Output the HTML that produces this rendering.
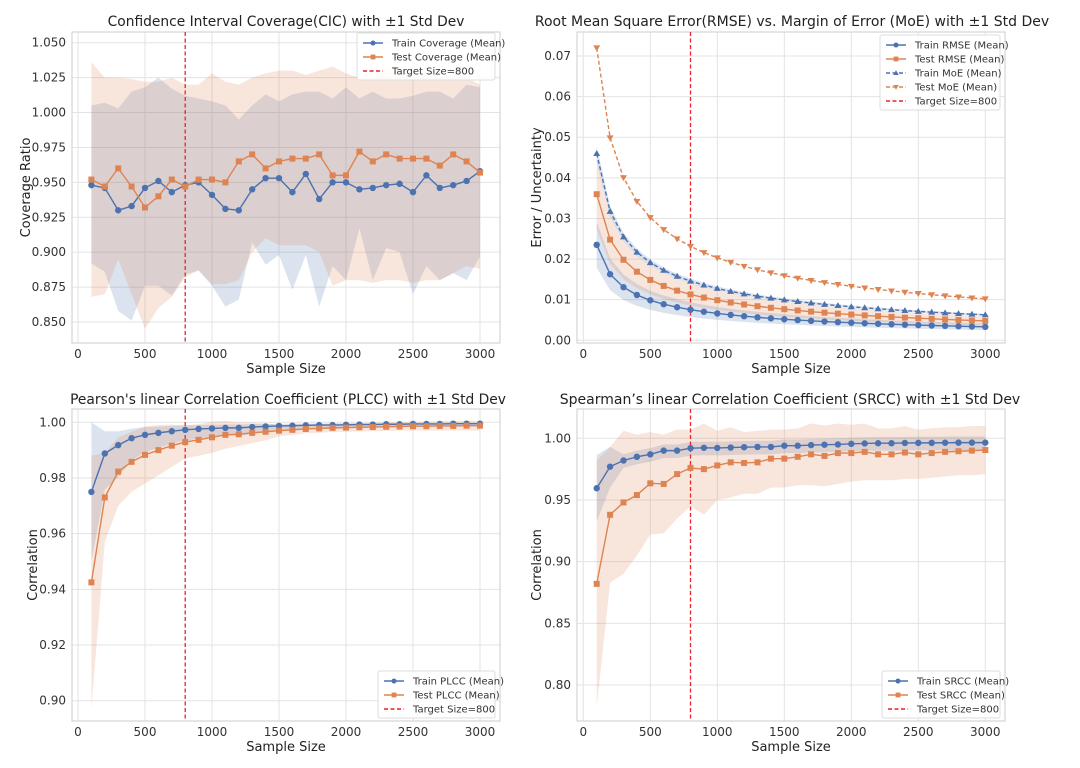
<!DOCTYPE html>
<html><head><meta charset="utf-8"><style>
html,body{margin:0;padding:0;background:#fff;}
svg{display:block;font-family:"DejaVu Sans","Liberation Sans",sans-serif;}
</style></head><body>
<svg id="s" width="1080" height="768" viewBox="0 0 1080 768" xmlns="http://www.w3.org/2000/svg"></svg>
<script>
const B='#4c72b0',O='#dd8452';
const xs=[];for(let i=1;i<=30;i++)xs.push(i*100);
let out='';
function plot(o){
  const X=v=>o.x0+v*(o.x1-o.x0)/3000;
  const Y=v=>o.ya+(v-o.va)*(o.yb-o.ya)/(o.vb-o.va);
  let s='';
  s+=`<clipPath id="c${o.id}"><rect x="${o.fx0}" y="${o.fy0}" width="${o.fx1-o.fx0}" height="${o.fy1-o.fy0}"/></clipPath>`;
  for(const t of [0,500,1000,1500,2000,2500,3000]){
    s+=`<line x1="${X(t)}" x2="${X(t)}" y1="${o.fy0}" y2="${o.fy1}" stroke="#e3e3e3" stroke-width="1"/>`;
    s+=`<text x="${X(t)}" y="${o.fy1+15}" font-size="12" fill="#333" text-anchor="middle">${t}</text>`;
  }
  for(const t of o.yt){
    const y=Y(t);
    s+=`<line x1="${o.fx0}" x2="${o.fx1}" y1="${y}" y2="${y}" stroke="#e3e3e3" stroke-width="1"/>`;
    s+=`<text x="${o.fx0-6}" y="${y+4}" font-size="12" fill="#333" text-anchor="end">${t.toFixed(o.dec)}</text>`;
  }
  s+=`<rect x="${o.fx0}" y="${o.fy0}" width="${o.fx1-o.fx0}" height="${o.fy1-o.fy0}" fill="none" stroke="#d5d5d5" stroke-width="1.2"/>`;
  s+=`<g clip-path="url(#c${o.id})">`;
  for(const b of o.bands){
    let p=xs.map((x,i)=>X(x)+','+Y(b.hi[i])).join(' ')+' '+xs.map((x,i)=>X(x)+','+Y(b.lo[i])).reverse().join(' ');
    s+=`<polygon points="${p}" fill="${b.c}" fill-opacity="0.2"/>`;
  }
  s+=`<line x1="${X(800)}" x2="${X(800)}" y1="${o.fy0}" y2="${o.fy1}" stroke="#e8242c" stroke-width="1.3" stroke-dasharray="4,2.5"/>`;
  for(const l of o.lines){
    const pts=xs.map((x,i)=>[X(x),Y(l.v[i])]);
    s+=`<polyline points="${pts.map(p=>p.join(',')).join(' ')}" fill="none" stroke="${l.c}" stroke-width="1.4" ${l.dash?'stroke-dasharray="4,2.5"':''}/>`;
    for(const [px,py] of pts) s+=marker(l.m,px,py,l.c);
  }
  s+='</g>';
  s+=`<text x="${o.tx}" y="${o.ty}" font-size="${o.tf||14}" fill="#222" text-anchor="middle">${o.title}</text>`;
  s+=`<text x="${(o.fx0+o.fx1)/2}" y="${o.fy1+30}" font-size="13" fill="#222" text-anchor="middle">Sample Size</text>`;
  s+=`<text transform="translate(${o.ylx},${(o.fy0+o.fy1)/2}) rotate(-90)" font-size="13" fill="#222" text-anchor="middle">${o.ylabel}</text>`;
  const L=o.leg;
  s+=`<rect x="${L.x}" y="${L.y}" width="${L.w}" height="${L.items.length*14+5}" fill="#fff" fill-opacity="0.85" stroke="#ddd" rx="2"/>`;
  L.items.forEach((it,i)=>{
    const y=L.y+10+i*14;
    s+=`<line x1="${L.x+6}" x2="${L.x+26}" y1="${y}" y2="${y}" stroke="${it.c}" stroke-width="1.4" ${it.dash?'stroke-dasharray="4,2.5"':''}/>`;
    if(it.m) s+=marker(it.m,L.x+16,y,it.c,0.8);
    s+=`<text x="${L.x+35}" y="${y+3.5}" font-size="10" fill="#333">${it.t}</text>`;
  });
  out+=s;
}
function marker(m,x,y,c,k=1){
  if(m==='o')return `<circle cx="${x}" cy="${y}" r="${3.2*k}" fill="${c}"/>`;
  if(m==='s'){const r=3*k;return `<rect x="${x-r}" y="${y-r}" width="${2*r}" height="${2*r}" fill="${c}"/>`;}
  if(m==='^'){const r=3.5*k;return `<polygon points="${x},${y-r} ${x-r},${y+r*0.7} ${x+r},${y+r*0.7}" fill="${c}"/>`;}
  if(m==='v'){const r=3.5*k;return `<polygon points="${x},${y+r} ${x-r},${y-r*0.7} ${x+r},${y-r*0.7}" fill="${c}"/>`;}
  return '';
}
const cTr=[0.948,0.946,0.930,0.933,0.946,0.951,0.943,0.948,0.950,0.941,0.931,0.930,0.945,0.953,0.953,0.943,0.956,0.938,0.950,0.950,0.945,0.946,0.948,0.949,0.943,0.955,0.946,0.948,0.951,0.958];
const cTe=[0.952,0.947,0.960,0.947,0.932,0.940,0.952,0.947,0.952,0.952,0.950,0.965,0.970,0.960,0.965,0.967,0.967,0.970,0.955,0.955,0.972,0.965,0.970,0.967,0.967,0.967,0.962,0.970,0.965,0.957];
const cTrHi=[1.005,1.007,1.003,1.015,1.018,1.025,1.017,1.012,1.01,1.008,1.005,0.995,1.005,1.013,1.008,1.013,1.015,1.015,1.01,1.018,1.01,1.015,1.01,1.01,1.012,1.015,1.015,1.01,1.02,1.018];
const cTrLo=[0.892,0.886,0.858,0.851,0.876,0.876,0.869,0.884,0.887,0.876,0.861,0.866,0.907,0.891,0.898,0.873,0.898,0.861,0.89,0.88,0.917,0.88,0.903,0.9,0.87,0.89,0.88,0.885,0.88,0.897];
const cTeHi=[1.036,1.025,1.025,1.024,1.022,1.022,1.025,1.02,1.02,1.028,1.022,1.02,1.025,1.028,1.03,1.03,1.027,1.03,1.033,1.028,1.025,1.025,1.03,1.03,1.028,1.03,1.025,1.028,1.025,1.02];
const cTeLo=[0.868,0.87,0.895,0.87,0.845,0.86,0.868,0.882,0.887,0.877,0.877,0.88,0.9,0.91,0.905,0.905,0.905,0.9,0.876,0.88,0.88,0.878,0.88,0.88,0.878,0.88,0.88,0.885,0.89,0.888];
plot({id:1,x0:78,x1:480,fx0:72,fx1:500,fy0:32,fy1:343,ya:42.7,va:1.05,yb:322,vb:0.85,yt:[0.85,0.875,0.9,0.925,0.95,0.975,1.0,1.025,1.05],dec:3,
 title:'Confidence Interval Coverage(CIC) with ±1 Std Dev',tx:286,ty:26,tf:13.8,ylabel:'Coverage Ratio',ylx:30,
 bands:[{c:B,hi:cTrHi,lo:cTrLo},{c:O,hi:cTeHi,lo:cTeLo}],
 lines:[{c:B,m:'o',v:cTr},{c:O,m:'s',v:cTe}],
 leg:{x:357,y:33,w:138,items:[{c:B,m:'o',t:'Train Coverage (Mean)'},{c:O,m:'s',t:'Test Coverage (Mean)'},{c:'#e8242c',dash:1,t:'Target Size=800'}]}});
const f=(a,b)=>xs.map(x=>a/Math.sqrt(x)+b);
const trR=f(0.2471,-0.0012),teR=f(0.3817,-0.0022),trM=f(0.4857,-0.0026),teM=f(0.756,-0.0036);
plot({id:2,x0:583.3,x1:985.3,fx0:577,fx1:1005,fy0:32,fy1:343,ya:56,va:0.07,yb:340.3,vb:0,yt:[0,0.01,0.02,0.03,0.04,0.05,0.06,0.07],dec:2,
 title:'Root Mean Square Error(RMSE) vs. Margin of Error (MoE) with ±1 Std Dev',tx:792,ty:26,tf:14,ylabel:'Error / Uncertainty',ylx:541,
 bands:[{c:B,hi:trR.map(v=>v*1.24),lo:trR.map(v=>v*0.76)},{c:O,hi:teR.map(v=>v*1.24),lo:teR.map(v=>v*0.76)},{c:B,hi:trM.map(v=>v*1.04),lo:trM.map(v=>v*0.96)}],
 lines:[{c:B,m:'o',v:trR},{c:O,m:'s',v:teR},{c:B,m:'^',v:trM,dash:1},{c:O,m:'v',v:teM,dash:1}],
 leg:{x:880,y:35,w:120,items:[{c:B,m:'o',t:'Train RMSE (Mean)'},{c:O,m:'s',t:'Test RMSE (Mean)'},{c:B,m:'^',dash:1,t:'Train MoE (Mean)'},{c:O,m:'v',dash:1,t:'Test MoE (Mean)'},{c:'#e8242c',dash:1,t:'Target Size=800'}]}});
const pTr=[0.975,0.9888,0.9918,0.9943,0.9955,0.9962,0.9968,0.9973,0.9976,0.9978,0.998,0.998,0.9983,0.9985,0.9987,0.9988,0.9989,0.999,0.999,0.9991,0.9992,0.9992,0.9993,0.9993,0.9994,0.9994,0.9994,0.9995,0.9995,0.9995];
const pTe=[0.9425,0.973,0.9823,0.9858,0.9883,0.990,0.9916,0.9929,0.9937,0.9946,0.9955,0.9957,0.9962,0.9966,0.997,0.9973,0.9976,0.9978,0.998,0.9981,0.9982,0.9983,0.9984,0.9985,0.9986,0.9986,0.9987,0.9987,0.9988,0.9988];
const pTeLo=[0.897,0.957,0.970,0.975,0.978,0.981,0.984,0.987,0.988,0.989,0.9905,0.9915,0.9925,0.9935,0.995,0.9955,0.996,0.9962,0.9965,0.9966,0.9967,0.9968,0.9969,0.997,0.997,0.997,0.997,0.997,0.997,0.997];
const pTrLo=pTr.map((v,i)=>v-(i==0?0.025:i==1?0.013:(1-v)*1.4));
const pTrHi=pTr.map((v,i)=>v+(i==0?0.025:i==1?0.008:(1-v)*0.6));
plot({id:3,x0:78,x1:480,fx0:72,fx1:500,fy0:409,fy1:721,ya:422.3,va:1.0,yb:700.7,vb:0.9,yt:[0.9,0.92,0.94,0.96,0.98,1.0],dec:2,
 title:"Pearson's linear Correlation Coefficient (PLCC) with ±1 Std Dev",tx:288,ty:404,tf:13.8,ylabel:'Correlation',ylx:37,
 bands:[{c:B,hi:pTrHi,lo:pTrLo},{c:O,hi:pTe.map((v,i)=>Math.min(v+(v-pTeLo[i]),1.0005)),lo:pTeLo}],
 lines:[{c:B,m:'o',v:pTr},{c:O,m:'s',v:pTe}],
 leg:{x:378,y:671,w:117,items:[{c:B,m:'o',t:'Train PLCC (Mean)'},{c:O,m:'s',t:'Test PLCC (Mean)'},{c:'#e8242c',dash:1,t:'Target Size=800'}]}});
const sTr=[0.9595,0.977,0.982,0.985,0.987,0.990,0.990,0.992,0.9923,0.9922,0.9925,0.9928,0.993,0.993,0.994,0.994,0.9945,0.9948,0.995,0.9955,0.9958,0.996,0.996,0.9962,0.9963,0.9963,0.9964,0.9965,0.9965,0.9965];
const sTe=[0.882,0.938,0.948,0.954,0.9635,0.963,0.971,0.976,0.975,0.978,0.9805,0.980,0.9805,0.9835,0.9835,0.985,0.987,0.9857,0.988,0.988,0.989,0.987,0.987,0.9885,0.987,0.988,0.989,0.9895,0.990,0.9905];
const sTeLo=[0.782,0.883,0.89,0.905,0.922,0.923,0.935,0.945,0.938,0.95,0.952,0.955,0.955,0.96,0.96,0.962,0.962,0.961,0.963,0.965,0.966,0.966,0.966,0.967,0.967,0.968,0.969,0.970,0.970,0.971];
const sTrLo=sTr.map((v,i)=>v-(i==0?0.027:i==1?0.017:0.006));
const sTrHi=sTr.map((v,i)=>v+(i==0?0.027:i==1?0.016:0.005));
plot({id:4,x0:583.3,x1:985.3,fx0:577,fx1:1005,fy0:409,fy1:721,ya:438.3,va:1.0,yb:685,vb:0.8,yt:[0.8,0.85,0.9,0.95,1.0],dec:2,
 title:"Spearman’s linear Correlation Coefficient (SRCC) with ±1 Std Dev",tx:790,ty:404,tf:14,ylabel:'Correlation',ylx:541,
 bands:[{c:B,hi:sTrHi,lo:sTrLo},{c:O,hi:sTe.map((v,i)=>Math.min(v+(v-sTeLo[i]),1.012)),lo:sTeLo}],
 lines:[{c:B,m:'o',v:sTr},{c:O,m:'s',v:sTe}],
 leg:{x:882,y:671,w:118,items:[{c:B,m:'o',t:'Train SRCC (Mean)'},{c:O,m:'s',t:'Test SRCC (Mean)'},{c:'#e8242c',dash:1,t:'Target Size=800'}]}});
document.getElementById('s').innerHTML=out;
</script>
</body></html>
